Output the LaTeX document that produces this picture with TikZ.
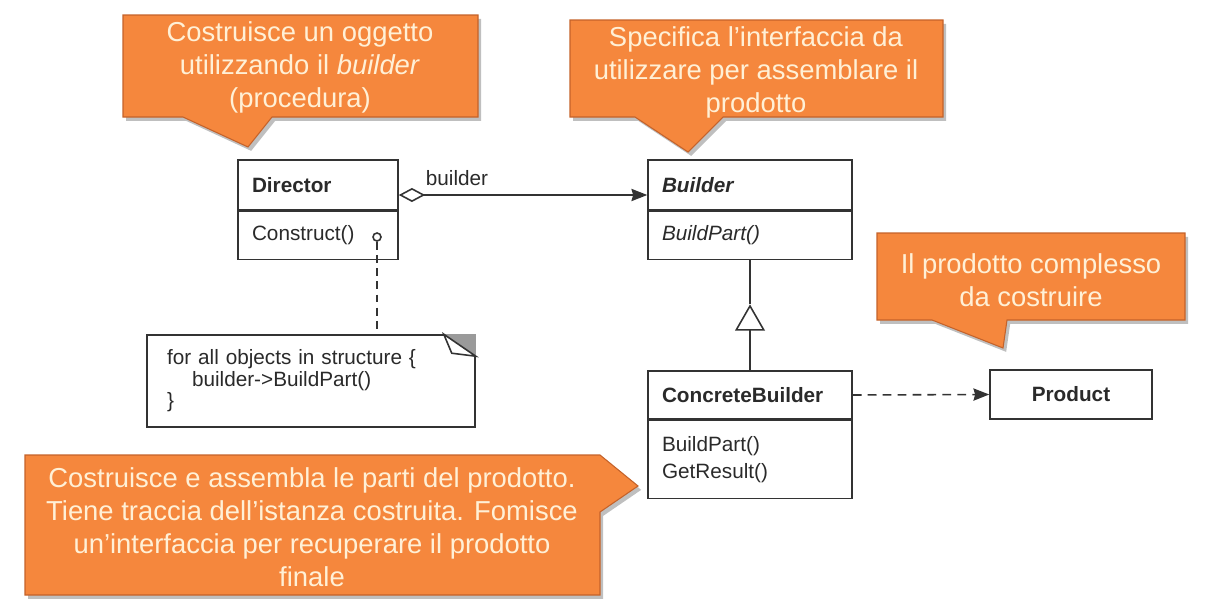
\documentclass[tikz,border=0pt]{standalone}
\usepackage{fontspec}
\setmainfont{Liberation Sans}
\usepackage{tikz}
\usepackage{xcolor}
\usetikzlibrary{arrows.meta,positioning,calc,shadows}
\definecolor{calloutfill}{HTML}{F5873D}
\definecolor{calloutedge}{HTML}{C4622A}
\definecolor{callouttext}{HTML}{FFF0D6}
\definecolor{umlline}{HTML}{333333}
\definecolor{umltext}{HTML}{2A2A2A}
\definecolor{notefold}{HTML}{9A9A9A}
\newcommand\calloutsize{\fontsize{15.6}{18.8}\selectfont}
\newcommand\umlsize{\fontsize{11.8}{15.4}\selectfont}
\newcommand\notesize{\fontsize{11.8}{12.3}\selectfont}
\tikzset{
  callout/.style={draw=calloutedge,fill=calloutfill,line width=0.6pt,
                  drop shadow={shadow xshift=1.8pt,shadow yshift=-2.2pt,
                               opacity=0.25,fill=black}},
  callouttxt/.style={text=callouttext,align=center,font=\calloutsize,
                     inner sep=0pt},
  classname/.style={draw=umlline,line width=0.9pt,text=umltext,
                    font=\umlsize\bfseries,align=left,inner xsep=0.28cm,
                    inner ysep=0pt,minimum height=1cm},
  classops/.style={draw=umlline,line width=0.9pt,text=umltext,
                   font=\umlsize,align=left,inner xsep=0.28cm,
                   inner ysep=0pt},
  notebox/.style={draw=umlline,line width=0.9pt,fill=white,text=umltext,
                  font=\notesize,align=left,inner xsep=0.4cm,
                  minimum width=6.56cm,minimum height=1.84cm,
                  text width=5.76cm},
  umledge/.style={draw=umlline,line width=0.9pt},
  assoc/.style={umledge,{Diamond[open,length=15pt,width=8pt]}-{Stealth[length=9pt,width=7pt,inset=1pt]}},
  generalize/.style={umledge,-{Triangle[open,length=15pt,width=17pt]}},
  depend/.style={umledge,dash pattern=on 5pt off 3.5pt,
                 -{Stealth[length=9pt,width=7pt,inset=1pt]}}
}
\begin{document}
\begin{tikzpicture}[x=0.02cm,y=-0.02cm]
    \path[use as bounding box] (0,0) rectangle (1210,612);

    % classes
    \node[classname,text width=2.64cm] (director) at (318,185) {Director};
    \node[classops,text width=2.64cm,minimum height=0.96cm,below=0pt of director]
      (directorops) {Construct()};
    \node[classname,text width=3.52cm] (builder) at (750,185) {\textit{Builder}};
    \node[classops,text width=3.52cm,minimum height=0.96cm,below=0pt of builder]
      (builderops) {\textit{BuildPart()}};
    \node[classname,text width=3.52cm,minimum height=0.96cm] (concrete) at (750,395)
      {ConcreteBuilder};
    \node[classops,text width=3.52cm,minimum height=1.56cm,below=0pt of concrete]
      (concreteops) {BuildPart()\\GetResult()};
    \node[classname,align=center,minimum width=3.24cm,minimum height=0.98cm]
      (product) at (1071,394.5) {Product};

    % note attached to Construct()
    \node[notebox] (note) at (311,381)
      {for all objects in structure \{\\
       \hspace*{0.5cm}builder->BuildPart()\\
       \}};
    \fill[notefold] ($(note.north east)+(-32,0)$) -- (note.north east)
      -- ($(note.north east)+(0,22)$) -- cycle;
    \draw[umledge,fill=white] ($(note.north east)+(-32,0)$)
      -- ($(note.north east)+(-24,19)$) -- ($(note.north east)+(0,22)$) -- cycle;
    \node[draw=umlline,line width=0.9pt,circle,inner sep=0pt,minimum size=0.16cm,
          fill=white] (constructpin) at (377,237) {};
    \draw[umledge,dash pattern=on 4.5pt off 3pt] (constructpin)
      -- (constructpin |- note.north);

    % relations
    \draw[assoc] ($(director.east)+(0,10)$) coordinate (aggstart)
      -- (aggstart -| builder.west);
    \node[text=umltext,font=\umlsize,inner sep=0pt] (rolelabel) at (457,178) {builder};
    \coordinate (inhtip) at ($(builderops.south)+(0,44)$);
    \draw[generalize] (concrete.north) -- (inhtip);
    \draw[umledge] (inhtip) -- (builderops.south);
    \draw[depend] (concrete.east) -- (product.west);

    % callouts
    \draw[callout] (123,15) -- (478,15) -- (478,117) -- (272,117) -- (248,147)
      -- (183,117) -- (123,117) -- cycle;
    \node[callouttxt] (calldirector) at (300,67)
      {Costruisce un oggetto\\utilizzando il \textit{builder}\\(procedura)};
    \draw[callout] (570,20) -- (943,20) -- (943,117) -- (723,117) -- (688,152)
      -- (635,117) -- (570,117) -- cycle;
    \node[callouttxt] (callbuilder) at (756,72)
      {Specifica l’interfaccia da\\utilizzare per assemblare il\\prodotto};
    \draw[callout] (877,233) -- (1185,233) -- (1185,320) -- (1007,320)
      -- (1003,348) -- (932,320) -- (877,320) -- cycle;
    \node[callouttxt] (callproduct) at (1031,280)
      {Il prodotto complesso\\da costruire};
    \draw[callout] (25,455) -- (600,455) -- (638,486) -- (600,512) -- (600,595)
      -- (25,595) -- cycle;
    \node[callouttxt] (callconcrete) at (312,527)
      {Costruisce e assembla le parti del prodotto.\\
       Tiene traccia dell’istanza costruita. Fomisce\\
       un'interfaccia per recuperare il prodotto\\
       finale};
  \end{tikzpicture}
\end{document}
